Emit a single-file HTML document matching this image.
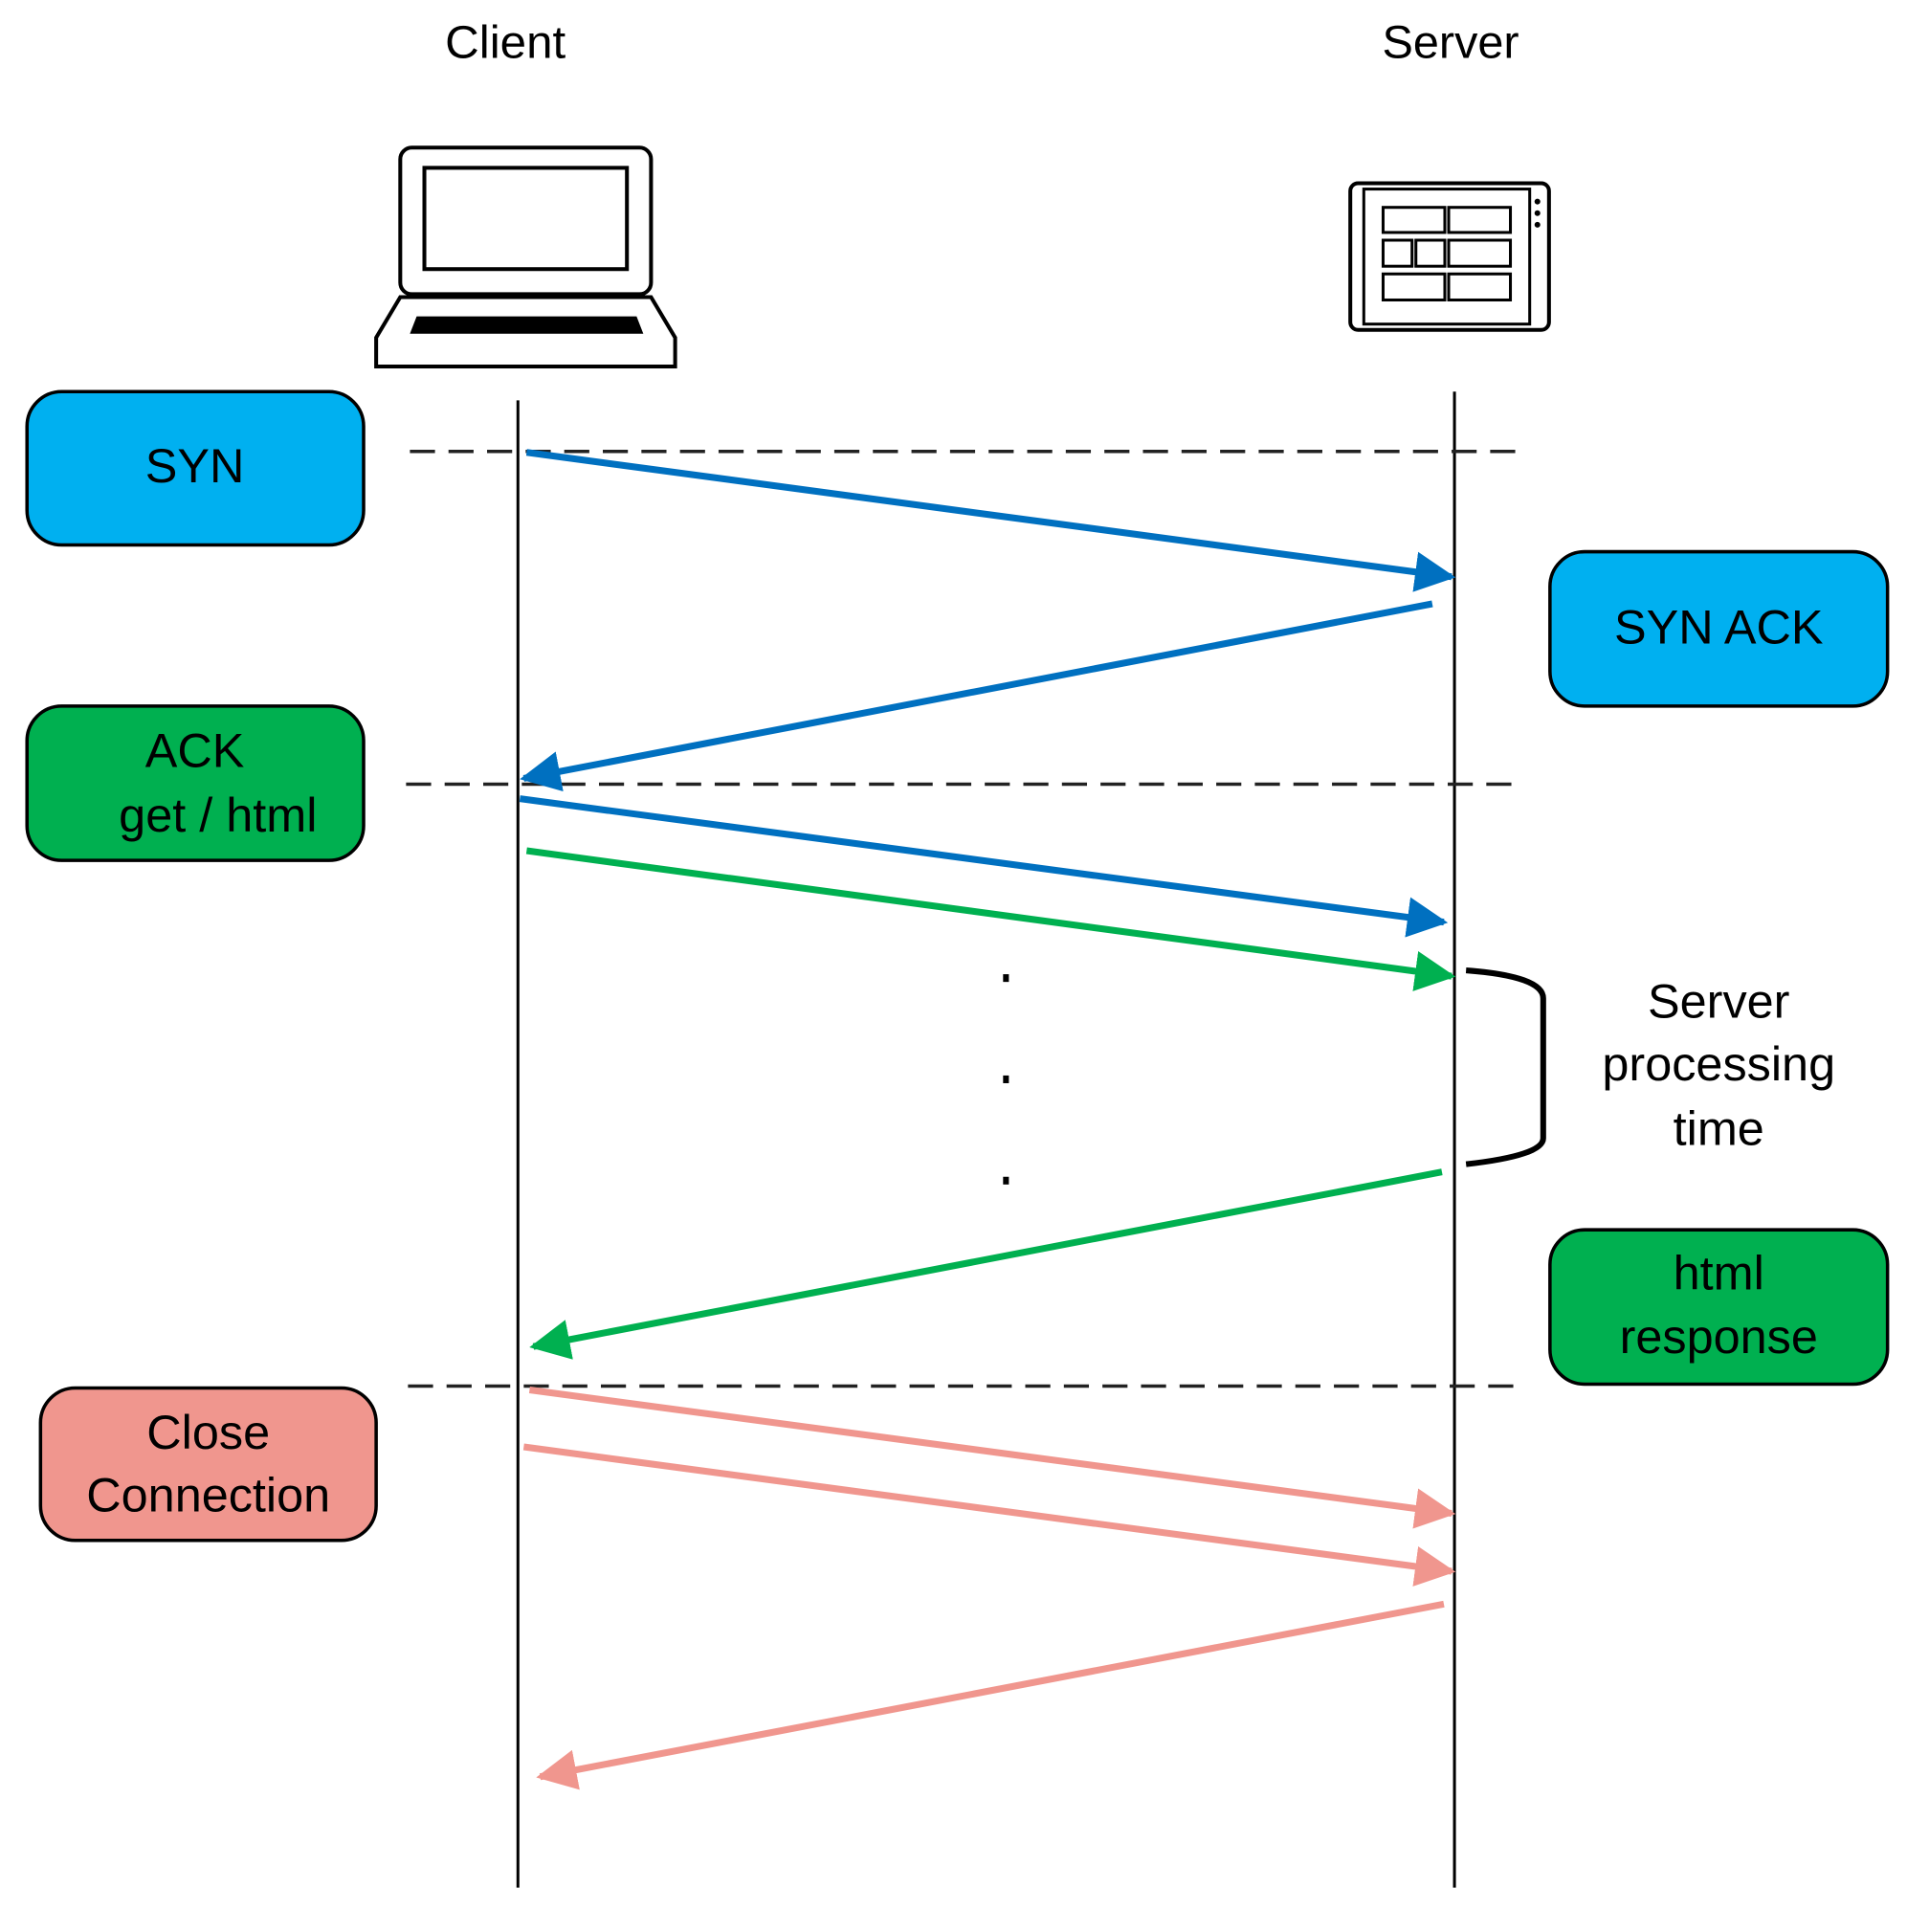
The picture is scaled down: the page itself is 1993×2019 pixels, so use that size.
<!DOCTYPE html>
<html><head><meta charset="utf-8"><style>
html,body{margin:0;padding:0;background:#fff;}
svg{display:block;}
text{font-family:"Liberation Sans",sans-serif;fill:#000;}
</style></head><body>
<svg width="1993" height="2019" viewBox="0 0 1993 2019" xmlns="http://www.w3.org/2000/svg">
<defs>
<marker id="ab" viewBox="0 0 10 10" refX="9" refY="5" markerWidth="6" markerHeight="6" orient="auto" markerUnits="strokeWidth"><path d="M0,0 L10,5 L0,10 z" fill="#0070c0"/></marker>
<marker id="ag" viewBox="0 0 10 10" refX="9" refY="5" markerWidth="6" markerHeight="6" orient="auto" markerUnits="strokeWidth"><path d="M0,0 L10,5 L0,10 z" fill="#00b050"/></marker>
<marker id="ap" viewBox="0 0 10 10" refX="9" refY="5" markerWidth="6" markerHeight="6" orient="auto" markerUnits="strokeWidth"><path d="M0,0 L10,5 L0,10 z" fill="#f0968e"/></marker>
</defs>
<g transform="scale(1.008)">
<text x="524" y="60" font-size="48" text-anchor="middle" textLength="125" lengthAdjust="spacingAndGlyphs">Client</text>
<text x="1504" y="60" font-size="48" text-anchor="middle" textLength="142" lengthAdjust="spacingAndGlyphs">Server</text>

<!-- laptop -->
<rect x="415" y="153" width="260" height="152" rx="12" fill="#fff" stroke="#000" stroke-width="4"/>
<rect x="440" y="174" width="210" height="105" fill="#fff" stroke="#000" stroke-width="4"/>
<path d="M415,308 L675,308 L700,350 L700,380 L390,380 L390,350 Z" fill="#fff" stroke="#000" stroke-width="4"/>
<path d="M432,328 L660,328 L667,346 L425,346 Z" fill="#000"/>

<!-- tablet -->
<rect x="1400" y="190" width="206" height="152" rx="8" fill="#fff" stroke="#000" stroke-width="4"/>
<rect x="1414" y="196" width="172" height="140" fill="#fff" stroke="#000" stroke-width="3"/>
<g fill="#fff" stroke="#000" stroke-width="3">
<rect x="1434" y="215" width="64" height="26"/><rect x="1502" y="215" width="64" height="26"/>
<rect x="1434" y="249" width="30" height="27"/><rect x="1468" y="249" width="30" height="27"/><rect x="1502" y="249" width="64" height="27"/>
<rect x="1434" y="284" width="64" height="27"/><rect x="1502" y="284" width="64" height="27"/>
</g>
<circle cx="1594" cy="209" r="3"/><circle cx="1594" cy="221" r="3"/><circle cx="1594" cy="233" r="3"/>

<!-- lifelines -->
<line x1="537" y1="415" x2="537" y2="1957" stroke="#000" stroke-width="3"/>
<line x1="1508" y1="406" x2="1508" y2="1957" stroke="#000" stroke-width="3"/>

<!-- dashed -->
<g stroke="#222" stroke-width="3.5" stroke-dasharray="26,14">
<line x1="425" y1="468" x2="1574" y2="468"/>
<line x1="421" y1="813" x2="1574" y2="813"/>
<line x1="423" y1="1437" x2="1574" y2="1437"/>
</g>

<!-- boxes -->
<rect x="28" y="406" width="349" height="159" rx="36" fill="#00b0f0" stroke="#000" stroke-width="3.5"/>
<text x="202" y="500" font-size="50" text-anchor="middle">SYN</text>
<rect x="1607" y="572" width="350" height="160" rx="36" fill="#00b0f0" stroke="#000" stroke-width="3.5"/>
<text x="1782" y="667" font-size="50" text-anchor="middle">SYN ACK</text>
<rect x="28" y="732" width="349" height="160" rx="36" fill="#00b050" stroke="#000" stroke-width="3.5"/>
<text x="202" y="795" font-size="50" text-anchor="middle">ACK</text>
<text x="226" y="862" font-size="50" text-anchor="middle">get / html</text>
<rect x="1607" y="1275" width="350" height="160" rx="36" fill="#00b050" stroke="#000" stroke-width="3.5"/>
<text x="1782" y="1337" font-size="50" text-anchor="middle">html</text>
<text x="1782" y="1403" font-size="50" text-anchor="middle">response</text>
<rect x="42" y="1439" width="348" height="158" rx="36" fill="#f0968e" stroke="#000" stroke-width="3.5"/>
<text x="216" y="1502" font-size="50" text-anchor="middle">Close</text>
<text x="216" y="1567" font-size="50" text-anchor="middle">Connection</text>

<!-- arrows -->
<g stroke-width="7" fill="none">
<line x1="546" y1="469" x2="1505" y2="598" stroke="#0070c0" marker-end="url(#ab)"/>
<line x1="1485" y1="626" x2="543" y2="807" stroke="#0070c0" marker-end="url(#ab)"/>
<line x1="539" y1="828" x2="1497" y2="956" stroke="#0070c0" marker-end="url(#ab)"/>
<line x1="546" y1="882" x2="1505" y2="1012" stroke="#00b050" marker-end="url(#ag)"/>
<line x1="1495" y1="1215" x2="553" y2="1396" stroke="#00b050" marker-end="url(#ag)"/>
<line x1="549" y1="1441" x2="1505" y2="1569" stroke="#f0968e" marker-end="url(#ap)"/>
<line x1="543" y1="1500" x2="1505" y2="1629" stroke="#f0968e" marker-end="url(#ap)"/>
<line x1="1497" y1="1663" x2="560" y2="1842" stroke="#f0968e" marker-end="url(#ap)"/>
</g>

<!-- dots -->
<rect x="1040" y="1010" width="6" height="8"/>
<rect x="1040" y="1115" width="6" height="8"/>
<rect x="1040" y="1220" width="6" height="8"/>

<!-- bracket -->
<path d="M1520,1006 Q1600,1012 1600,1035 L1600,1180 Q1600,1198 1520,1207" fill="none" stroke="#000" stroke-width="6"/>
<text x="1782" y="1055" font-size="50" text-anchor="middle">Server</text>
<text x="1782" y="1120" font-size="50" text-anchor="middle">processing</text>
<text x="1782" y="1187" font-size="50" text-anchor="middle">time</text>
</g>
</svg>
</body></html>
